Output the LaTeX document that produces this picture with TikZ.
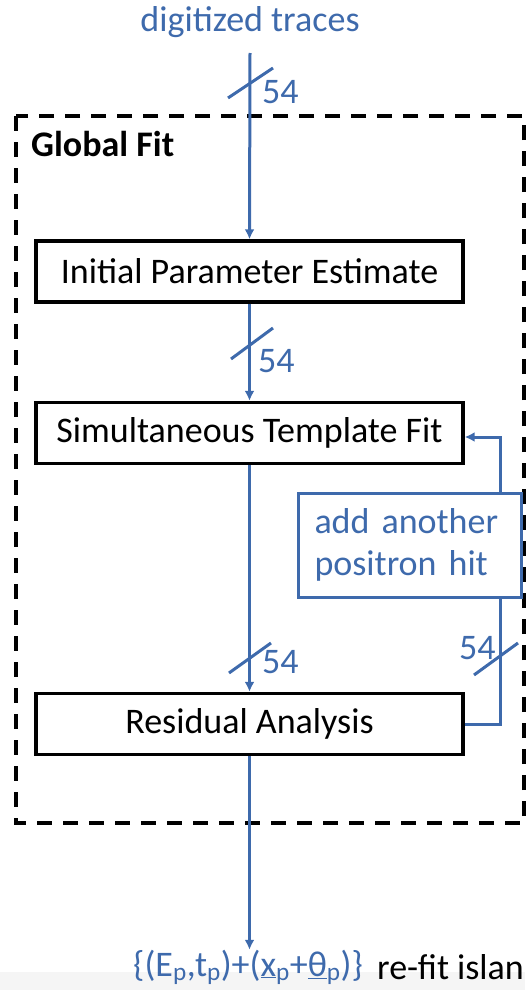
\documentclass[tikz,border=0pt]{standalone}
\usepackage{fontspec}
\setmainfont{Carlito}
\usetikzlibrary{arrows.meta,calc}
\definecolor{fblue}{RGB}{62,106,172}
\begin{document}
\begin{tikzpicture}[x=1pt,y=-1pt,
  every node/.style={font=\fontsize{36}{42}\selectfont},
  procbox/.style={draw=black,line width=3.4pt,minimum width=427pt,minimum height=61pt,inner sep=0pt,text=black},
  flow/.style={draw=fblue,line width=3pt,-{Latex[length=10pt,width=10pt]}},
  wire/.style={draw=fblue,line width=3pt},
  busnum/.style={text=fblue,inner sep=0pt,anchor=west},
  groupbox/.style={draw=black,line width=3.4pt,dash pattern=on 15pt off 11pt},
]
\useasboundingbox (0,0) rectangle (525,990);
\fill[gray!8] (0,972) rectangle (525,990);

% group
\draw[groupbox] (16,116) rectangle (524,823);
\node[anchor=west,inner sep=0pt,font=\fontsize{36}{42}\selectfont\bfseries] (gf) at (31,144) {Global Fit};

% nodes
\node[text=fblue,inner sep=0pt] (in) at (250,22) {digitized traces};
\node[procbox] (ini) at (249.5,271.5) {Initial Parameter Estimate};
\node[procbox] (sim) at (249.5,433) {Simultaneous Template Fit};
\node[procbox] (res) at (249.5,724) {Residual Analysis};
\node[draw=fblue,line width=3pt,minimum width=223pt,minimum height=104pt,inner sep=0pt,
      text=fblue,align=left,text width=190pt] (add) at (409.5,545) {add another\\positron hit};
\node[text=fblue,inner sep=0pt,anchor=west] (out) at (133,967)
  {\{(E\textsubscript{p},t\textsubscript{p})+(\underline{x}\textsubscript{p}+\underline{θ}\textsubscript{p})\}};
\node[text=black,inner sep=0pt,anchor=west] (refit) at (377,967) {re-fit islan};

% connectors
\coordinate (inbot) at (250,53);
\draw[flow] (inbot) -- (ini.north);
\draw[flow] (ini.south) -- (sim.north);
\draw[flow] (sim.south) -- (res.north);
\draw[flow] (res.south) -- (res.south |- out.north);
\coordinate (rturn) at (500,724);
\coordinate (tturn) at (500,437);
\draw[wire] (res.east |- rturn) -- (rturn) -- (rturn |- add.south);
\draw[flow] (tturn |- add.north) -- (tturn) -- (sim.east |- tturn);

% bus markers
\draw[wire] (228,98) -- (273,68);
\node[busnum] (n1) at (262,92) {54};
\draw[wire] (231,359) -- (273,328);
\node[busnum] (n2) at (258,361) {54};
\draw[wire] (229,673) -- (271,643);
\node[busnum] (n3) at (262,662) {54};
\draw[wire] (474,675) -- (518,643);
\node[busnum] (n4) at (459,648) {54};
\end{tikzpicture}
\end{document}
